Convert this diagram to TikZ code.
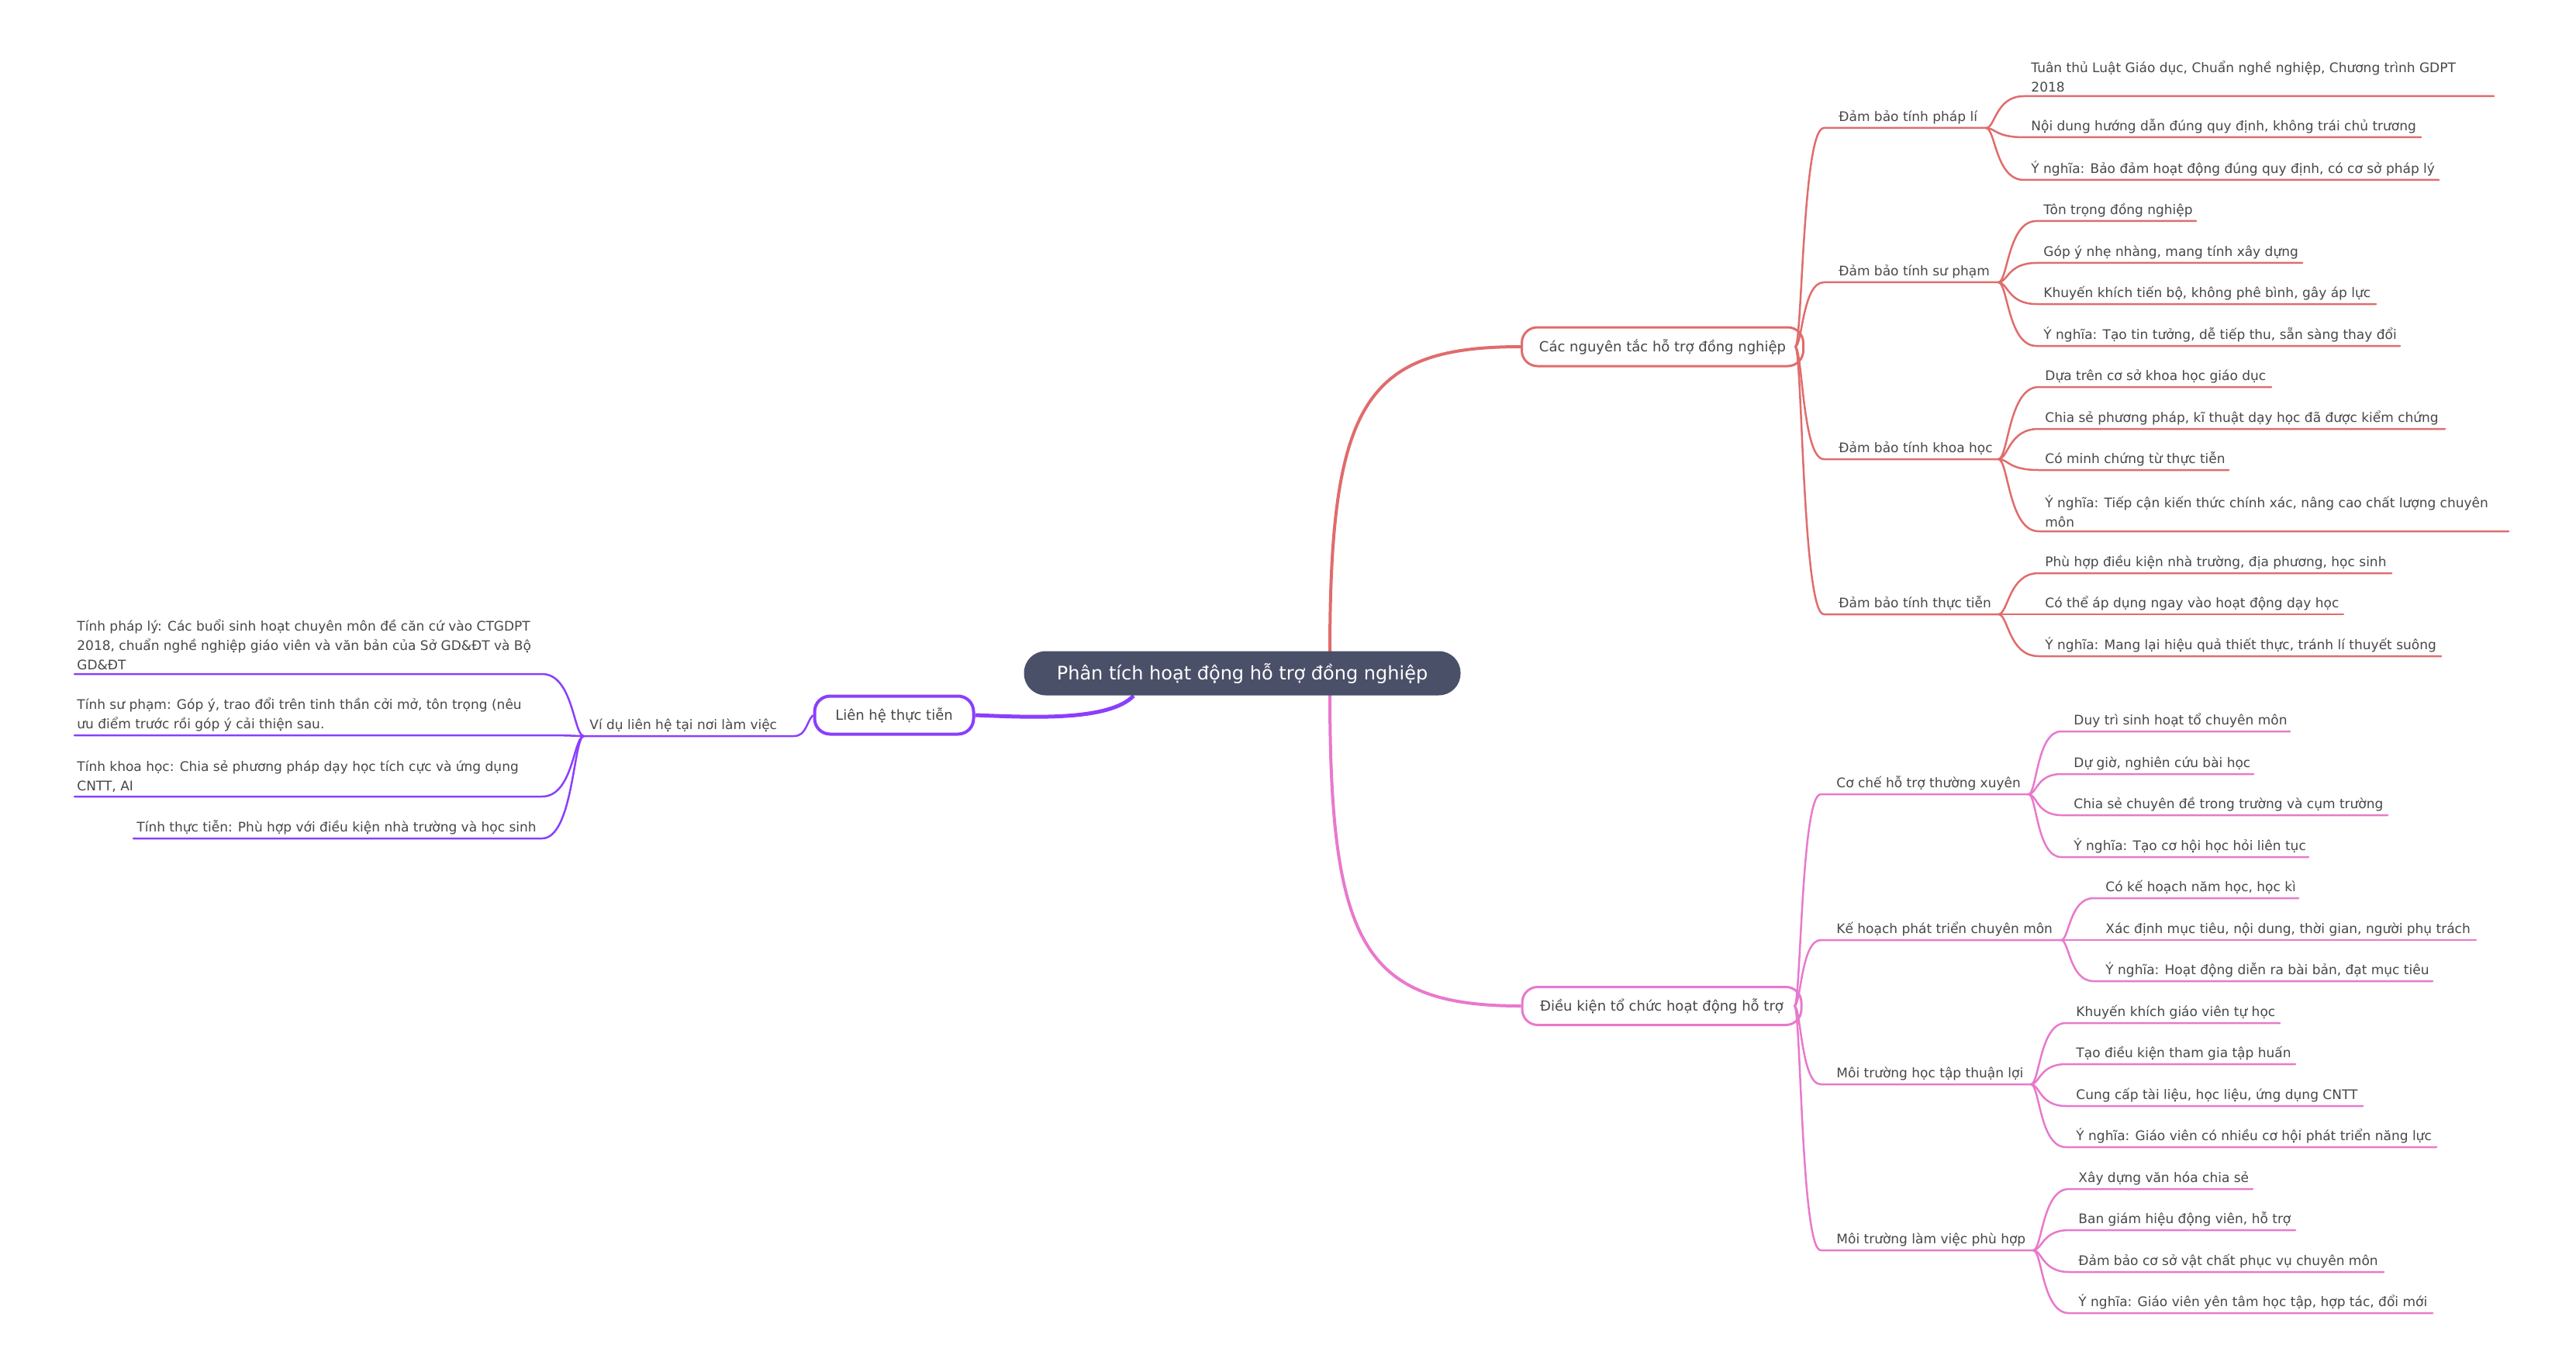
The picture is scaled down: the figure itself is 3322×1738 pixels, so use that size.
\documentclass[tikz,border=0pt]{standalone}
\usepackage{fontspec}
\setmainfont{DejaVu Sans}
\definecolor{cred}{HTML}{E06C6C}
\definecolor{cpink}{HTML}{E879CC}
\definecolor{cpur}{HTML}{8A3FFC}
\definecolor{croot}{HTML}{4B5069}
\definecolor{txt}{HTML}{474747}
\tikzset{
 lt/.style={font=\fontsize{8.5}{12.5}\selectfont, text=txt, inner sep=0, anchor=south west, align=left},
 lw/.style={line width=1.25pt},
 mainnode/.style={draw, line width=1.5pt, fill=white, rounded corners=10pt, text=txt, font=\fontsize{9}{11}\selectfont, inner sep=0},
}
% #1 colour, #2 jx, #3 jy, #4 xs, #5 yul, #6 xe, #7 text x, #8 name, #9 text
\newcommand\leaf[9]{%
 \node[lt] (#8) at (#7,#5-5) {#9};
 \coordinate (#8s) at (#4,#5);
 \coordinate (#8e) at (#6,#5);
 \draw[#1,lw,line cap=round] (#2,#3) .. controls ({#2+0.25*(#4-#2)},#3) and ({#2+0.25*(#4-#2)},#5) .. (#8s) -- (#8e);
}
\begin{document}
\begin{tikzpicture}[x=0.5pt,y=-0.5pt]
\useasboundingbox (0,0) rectangle (3322,1738);
% main nodes
\node[mainnode, draw=cred, minimum width=181.5pt, minimum height=25pt] (A) at (2144,447) {Các nguyên tắc hỗ trợ đồng nghiệp};
\node[mainnode, draw=cpink, minimum width=180pt, minimum height=24.5pt] (B) at (2143,1297) {Điều kiện tổ chức hoạt động hỗ trợ};
\node[mainnode, draw=cpur, line width=2pt, minimum width=102.5pt, minimum height=24.5pt] (C) at (1153,922) {Liên hệ thực tiễn};
\coordinate (rt) at (1715,842);
\coordinate (rb) at (1715,895);
\coordinate (rl) at (1462,897);
\draw[cred, line width=2pt] (rt) .. controls (1715,520) and (1760,447) .. (A.west);
\draw[cpink, line width=2pt] (rb) .. controls (1715,1220) and (1760,1297) .. (B.west);
\draw[cpur, line width=2.5pt] (rl) .. controls (1430,930) and (1330,925) .. (C.east);
% root
\node[fill=croot, rounded corners=14pt, minimum width=281.5pt, minimum height=28.5pt, inner sep=0, text=white, font=\fontsize{12}{14}\selectfont] (root) at (1602,868) {Phân tích hoạt động hỗ trợ đồng nghiệp};
% red sub-branches
\leaf{cred}{2315}{447}{2352}{165}{2561}{2371}{a1}{Đảm bảo tính pháp lí}
\leaf{cred}{2315}{447}{2352}{364}{2577}{2371}{a2}{Đảm bảo tính sư phạm}
\leaf{cred}{2315}{447}{2352}{592}{2577}{2371}{a3}{Đảm bảo tính khoa học}
\leaf{cred}{2315}{447}{2352}{792}{2577}{2371}{a4}{Đảm bảo tính thực tiễn}
\leaf{cred}{2561}{165}{2610}{124}{3216}{2619}{a11}{Tuân thủ Luật Giáo dục, Chuẩn nghề nghiệp, Chương trình GDPT\\2018}
\leaf{cred}{2561}{165}{2610}{177}{3122}{2619}{a12}{Nội dung hướng dẫn đúng quy định, không trái chủ trương}
\leaf{cred}{2561}{165}{2610}{232}{3145}{2619}{a13}{Ý nghĩa: Bảo đảm hoạt động đúng quy định, có cơ sở pháp lý}
\leaf{cred}{2577}{364}{2626}{285}{2832}{2635}{a21}{Tôn trọng đồng nghiệp}
\leaf{cred}{2577}{364}{2626}{339}{2969}{2635}{a22}{Góp ý nhẹ nhàng, mang tính xây dựng}
\leaf{cred}{2577}{364}{2626}{392}{3064}{2635}{a23}{Khuyến khích tiến bộ, không phê bình, gây áp lực}
\leaf{cred}{2577}{364}{2626}{446}{3095}{2635}{a24}{Ý nghĩa: Tạo tin tưởng, dễ tiếp thu, sẵn sàng thay đổi}
\leaf{cred}{2577}{592}{2629}{499}{2929}{2637}{a31}{Dựa trên cơ sở khoa học giáo dục}
\leaf{cred}{2577}{592}{2629}{553}{3153}{2637}{a32}{Chia sẻ phương pháp, kĩ thuật dạy học đã được kiểm chứng}
\leaf{cred}{2577}{592}{2629}{606}{2874}{2637}{a33}{Có minh chứng từ thực tiễn}
\leaf{cred}{2577}{592}{2629}{685}{3235}{2637}{a34}{Ý nghĩa: Tiếp cận kiến thức chính xác, nâng cao chất lượng chuyên\\môn}
\leaf{cred}{2577}{792}{2629}{739}{3084}{2637}{a41}{Phù hợp điều kiện nhà trường, địa phương, học sinh}
\leaf{cred}{2577}{792}{2629}{792}{3022}{2637}{a42}{Có thể áp dụng ngay vào hoạt động dạy học}
\leaf{cred}{2577}{792}{2629}{846}{3148}{2637}{a43}{Ý nghĩa: Mang lại hiệu quả thiết thực, tránh lí thuyết suông}
% pink sub-branches
\leaf{cpink}{2314}{1297}{2348}{1024}{2616}{2368}{b1}{Cơ chế hỗ trợ thường xuyên}
\leaf{cpink}{2314}{1297}{2348}{1212}{2658}{2368}{b2}{Kế hoạch phát triển chuyên môn}
\leaf{cpink}{2314}{1297}{2348}{1398}{2619}{2368}{b3}{Môi trường học tập thuận lợi}
\leaf{cpink}{2314}{1297}{2348}{1612}{2622}{2368}{b4}{Môi trường làm việc phù hợp}
\leaf{cpink}{2616}{1024}{2658}{943}{2953}{2674}{b11}{Duy trì sinh hoạt tổ chuyên môn}
\leaf{cpink}{2616}{1024}{2658}{998}{2906}{2674}{b12}{Dự giờ, nghiên cứu bài học}
\leaf{cpink}{2616}{1024}{2658}{1051}{3079}{2674}{b13}{Chia sẻ chuyên đề trong trường và cụm trường}
\leaf{cpink}{2616}{1024}{2658}{1105}{2977}{2674}{b14}{Ý nghĩa: Tạo cơ hội học hỏi liên tục}
\leaf{cpink}{2658}{1212}{2700}{1158}{2964}{2715}{b21}{Có kế hoạch năm học, học kì}
\leaf{cpink}{2658}{1212}{2700}{1212}{3193}{2715}{b22}{Xác định mục tiêu, nội dung, thời gian, người phụ trách}
\leaf{cpink}{2658}{1212}{2700}{1265}{3137}{2715}{b23}{Ý nghĩa: Hoạt động diễn ra bài bản, đạt mục tiêu}
\leaf{cpink}{2619}{1398}{2664}{1319}{2940}{2677}{b31}{Khuyến khích giáo viên tự học}
\leaf{cpink}{2619}{1398}{2664}{1372}{2960}{2677}{b32}{Tạo điều kiện tham gia tập huấn}
\leaf{cpink}{2619}{1398}{2664}{1426}{3047}{2677}{b33}{Cung cấp tài liệu, học liệu, ứng dụng CNTT}
\leaf{cpink}{2619}{1398}{2664}{1479}{3142}{2677}{b34}{Ý nghĩa: Giáo viên có nhiều cơ hội phát triển năng lực}
\leaf{cpink}{2622}{1612}{2668}{1533}{2905}{2680}{b41}{Xây dựng văn hóa chia sẻ}
\leaf{cpink}{2622}{1612}{2668}{1586}{2960}{2680}{b42}{Ban giám hiệu động viên, hỗ trợ}
\leaf{cpink}{2622}{1612}{2668}{1640}{3074}{2680}{b43}{Đảm bảo cơ sở vật chất phục vụ chuyên môn}
\leaf{cpink}{2622}{1612}{2668}{1693}{3137}{2680}{b44}{Ý nghĩa: Giáo viên yên tâm học tập, hợp tác, đổi mới}
% purple
\node[lt] (c1) at (760,944) {Ví dụ liên hệ tại nơi làm việc};
\coordinate (c1s) at (1024,949);
\coordinate (c1e) at (753,949);
\draw[cpur,lw] (C.west) .. controls (1040,930) and (1040,949) .. (c1s) -- (c1e);
\leaf{cpur}{753}{949}{699}{869}{96}{99}{c11}{Tính pháp lý: Các buổi sinh hoạt chuyên môn đề căn cứ vào CTGDPT\\2018, chuẩn nghề nghiệp giáo viên và văn bản của Sở GD\&ĐT và Bộ\\GD\&ĐT}
\leaf{cpur}{753}{949}{699}{948}{96}{99}{c12}{Tính sư phạm: Góp ý, trao đổi trên tinh thần cởi mở, tôn trọng (nêu\\ưu điểm trước rồi góp ý cải thiện sau.}
\leaf{cpur}{753}{949}{699}{1027}{96}{99}{c13}{Tính khoa học: Chia sẻ phương pháp dạy học tích cực và ứng dụng\\CNTT, AI}
\leaf{cpur}{753}{949}{699}{1081}{172}{176}{c14}{Tính thực tiễn: Phù hợp với điều kiện nhà trường và học sinh}
\end{tikzpicture}
\end{document}
